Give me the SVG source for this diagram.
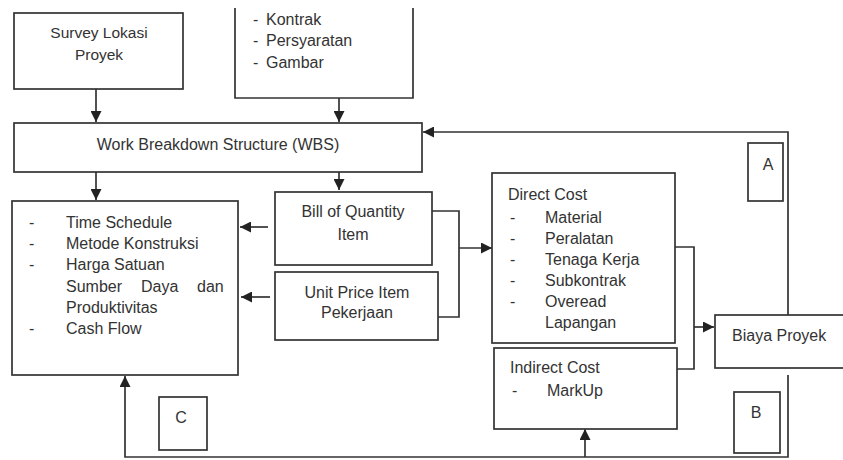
<svg xmlns="http://www.w3.org/2000/svg" width="843" height="460" viewBox="0 0 843 460">
<style>
.b{fill:#fff;stroke:#333;stroke-width:1.7}
.l{fill:none;stroke:#333;stroke-width:1.7}
text{font-family:"Liberation Sans",Arial,sans-serif;font-size:16px;fill:#333}
.c{text-anchor:middle}
</style>
<defs>
<marker id="ar" viewBox="0 0 10 10" refX="10" refY="5" markerWidth="11" markerHeight="11" markerUnits="userSpaceOnUse" orient="auto">
<path d="M0,0 L10,5 L0,10 z" fill="#222"/>
</marker>
</defs>
<rect width="843" height="460" fill="#fff"/>
<g id="connectors">
<path class="l" d="M96,89 V122" marker-end="url(#ar)"/>
<path class="l" d="M339,98 V122" marker-end="url(#ar)"/>
<path class="l" d="M96,172 V200" marker-end="url(#ar)"/>
<path class="l" d="M339,172 V190" marker-end="url(#ar)"/>
<path class="l" d="M268,227 H240" marker-end="url(#ar)"/>
<path class="l" d="M270,297 H241" marker-end="url(#ar)"/>
<path class="l" d="M432,211 H459 V317 H438"/>
<path class="l" d="M459,248 H492" marker-end="url(#ar)"/>
<path class="l" d="M675,247 H694 V369 H677"/>
<path class="l" d="M694,327 H714" marker-end="url(#ar)"/>
<path class="l" d="M788,315 V132 H423" marker-end="url(#ar)"/>
<path class="l" d="M788,375 V457 H125 V376" marker-end="url(#ar)"/>
<path class="l" d="M585,457 V429" marker-end="url(#ar)"/>
</g>
<g id="survey">
<rect class="b" x="14" y="13" width="169" height="76"/>
<text class="c" x="99" y="38" style="font-size:15.5px">Survey Lokasi</text>
<text class="c" x="99" y="60" style="font-size:15.5px">Proyek</text>
</g>
<g id="dokumen">
<path class="b" d="M235,8 V98 H413 V8" style="fill:#fff"/>
<text x="253" y="25">-</text><text x="266" y="25">Kontrak</text>
<text x="253" y="46">-</text><text x="266" y="46">Persyaratan</text>
<text x="253" y="68">-</text><text x="266" y="68">Gambar</text>
</g>
<g id="wbs">
<rect class="b" x="14" y="123" width="408" height="49"/>
<text class="c" x="218" y="150">Work Breakdown Structure (WBS)</text>
</g>
<g id="output">
<rect class="b" x="12" y="201" width="226" height="174"/>
<text x="29" y="228">-</text><text x="66" y="228">Time Schedule</text>
<text x="29" y="249">-</text><text x="66" y="249">Metode Konstruksi</text>
<text x="29" y="270">-</text><text x="66" y="270">Harga Satuan</text>
<text x="66" y="292">Sumber</text><text x="141" y="292">Daya</text><text x="197" y="292">dan</text>
<text x="66" y="313">Produktivitas</text>
<text x="29" y="334">-</text><text x="66" y="334">Cash Flow</text>
</g>
<g id="boq">
<rect class="b" x="275" y="192" width="157" height="73"/>
<text class="c" x="353" y="217">Bill of Quantity</text>
<text class="c" x="353" y="240">Item</text>
</g>
<g id="unitprice">
<rect class="b" x="275" y="272" width="163" height="68"/>
<text class="c" x="357" y="298">Unit Price Item</text>
<text class="c" x="357" y="318">Pekerjaan</text>
</g>
<g id="direct">
<rect class="b" x="492" y="173" width="183" height="170"/>
<text x="508" y="200">Direct Cost</text>
<text x="510" y="223">-</text><text x="545" y="223">Material</text>
<text x="510" y="244">-</text><text x="545" y="244">Peralatan</text>
<text x="510" y="265">-</text><text x="545" y="265">Tenaga Kerja</text>
<text x="510" y="286">-</text><text x="545" y="286">Subkontrak</text>
<text x="510" y="307">-</text><text x="545" y="307">Overead</text>
<text x="545" y="328">Lapangan</text>
</g>
<g id="indirect">
<rect class="b" x="494" y="348" width="183" height="81"/>
<text x="510" y="373">Indirect Cost</text>
<text x="512" y="396">-</text><text x="547" y="396">MarkUp</text>
</g>
<g id="biaya">
<rect class="b" x="715" y="315" width="140" height="53"/>
<text x="732" y="341">Biaya Proyek</text>
</g>
<g id="labelA">
<rect class="b" x="748" y="143" width="35" height="58"/>
<text class="c" x="768" y="170">A</text>
</g>
<g id="labelB">
<rect class="b" x="734" y="392" width="46" height="61"/>
<text class="c" x="756" y="418">B</text>
</g>
<g id="labelC">
<rect class="b" x="159" y="397" width="48" height="53"/>
<text class="c" x="181" y="423">C</text>
</g>
</svg>
